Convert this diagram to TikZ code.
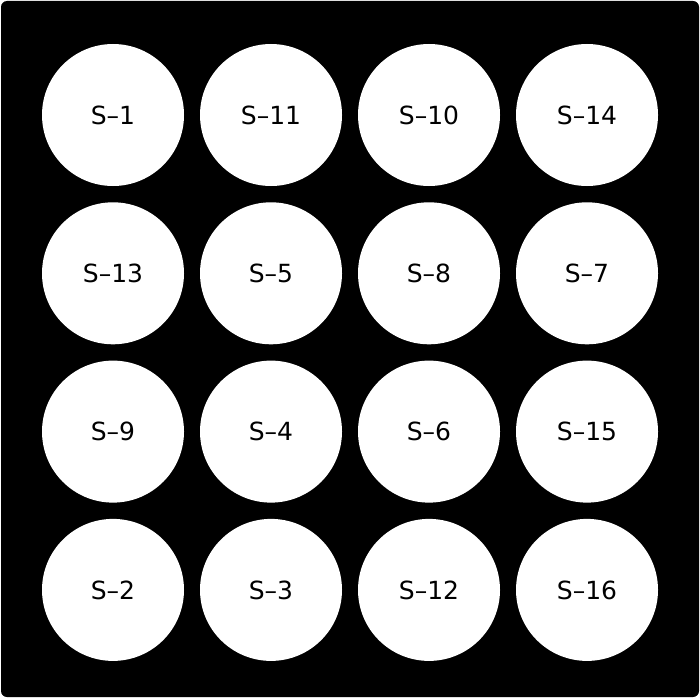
\documentclass[tikz,border=0pt]{standalone}
\usepackage{fontspec}
\setmainfont{DejaVu Sans}
\begin{document}
\begin{tikzpicture}[x=1pt,y=-1pt,
    well/.style={circle,fill=white,minimum size=142pt,inner sep=0pt,
        font=\fontsize{25}{29}\selectfont}]

        % board
        \useasboundingbox (0,0) rectangle (700,698);
        \fill[black,rounded corners=6pt] (1,1) rectangle (699,697);

        % sample wells
        \foreach \lab [count=\i from 0] in {1,11,10,14,13,5,8,7,9,4,6,15,2,3,12,16} {
            \pgfmathtruncatemacro{\col}{mod(\i,4)}
            \pgfmathtruncatemacro{\row}{div(\i,4)}
            \node[well] (s\lab) at (113+158*\col,115+158.3*\row) {S–\lab};
        }

\end{tikzpicture}
\end{document}
